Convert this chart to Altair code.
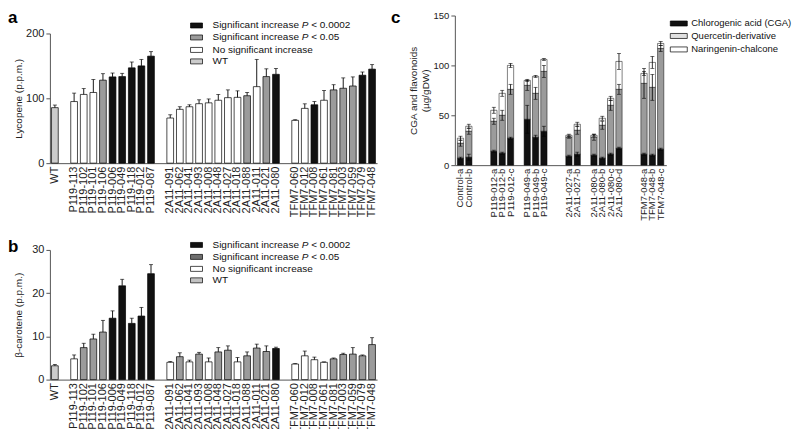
import altair as alt
import pandas as pd

FONT = "Liberation Sans"

# ---------------- panels a and b : transgenic lines ----------------
wt_lines = ["WT"]
p119_lines = ["P119-113", "P119-102", "P119-101", "P119-106", "P119-006",
              "P119-049", "P119-118", "P119-012", "P119-087"]
a2a11_lines = ["2A11-091", "2A11-062", "2A11-041", "2A11-093", "2A11-008", "2A11-048",
               "2A11-027", "2A11-018", "2A11-088", "2A11-011", "2A11-021", "2A11-080"]
tfm7_lines = ["TFM7-060", "TFM7-012", "TFM7-008", "TFM7-061", "TFM7-081",
              "TFM7-003", "TFM7-059", "TFM7-079", "TFM7-048"]

# lycopene (p.p.m.)
lyc_wt = [85.6]
lyc_p119 = [95, 106, 109, 128, 133, 133.5, 147, 150, 165]
lyc_2a11 = [69.6, 83, 87, 91.7, 93, 97, 101, 101.5, 104, 118, 133.5, 137]
lyc_tfm7 = [66, 84.5, 90, 97, 113, 115.5, 119, 135.6, 145]
lyc_wt_err = [4]
lyc_p119_err = [13, 9, 20, 10, 6, 5, 9, 10, 7]
lyc_2a11_err = [5, 4, 3, 6, 6, 9, 12, 10, 5, 42, 12, 9]
lyc_tfm7_err = [1, 7, 5, 15, 8, 16, 14, 5, 7]
lyc_sig_wt = ["wt"]
lyc_sig_p119 = ["ns", "ns", "ns", "p05", "p0002", "p0002", "p0002", "p0002", "p0002"]
lyc_sig_2a11 = ["ns", "ns", "ns", "ns", "ns", "ns", "ns", "ns", "p05", "ns", "p05", "p0002"]
lyc_sig_tfm7 = ["ns", "ns", "p0002", "ns", "p05", "p05", "p05", "p0002", "p0002"]

# beta-carotene (p.p.m.)
bc_wt = [3.2]
bc_p119 = [4.8, 7.4, 9.4, 11.0, 14.2, 21.7, 13.0, 14.7, 24.5]
bc_2a11 = [4.0, 5.3, 4.1, 5.9, 4.1, 6.4, 6.8, 4.1, 5.5, 7.3, 6.5, 7.2]
bc_tfm7 = [3.6, 5.5, 4.6, 4.0, 4.8, 5.8, 5.9, 5.5, 8.1]
bc_wt_err = [0.3]
bc_p119_err = [0.9, 1.0, 1.1, 2.7, 1.7, 1.5, 1.2, 2.0, 2.1]
bc_2a11_err = [0.2, 0.9, 0.4, 0.4, 0.9, 1.0, 1.0, 1.0, 0.9, 0.9, 1.3, 0.3]
bc_tfm7_err = [0.1, 1.1, 0.6, 0.1, 0.2, 0.3, 1.5, 0.2, 1.6]
bc_sig_wt = ["wt"]
bc_sig_p119 = ["ns", "p05", "p05", "p05", "p0002", "p0002", "p0002", "p0002", "p0002"]
bc_sig_2a11 = ["ns", "p05", "ns", "p05", "ns", "p05", "p05", "ns", "p05", "p05", "p05", "p0002"]
bc_sig_tfm7 = ["ns", "ns", "ns", "ns", "p05", "p05", "p05", "p05", "p05"]

sig_codes = ["p0002", "p05", "ns", "wt"]

# ---------------- panel c : fruit samples ----------------
c_samples = ["Control-a", "Control-b",
             "P119-012-a", "P119-012-b", "P119-012-c",
             "P119-049-a", "P119-049-b", "P119-049-c",
             "2A11-027-a", "2A11-027-b",
             "2A11-080-a", "2A11-080-b", "2A11-080-c", "2A11-080-d",
             "TFM7-048-a", "TFM7-048-b", "TFM7-048-c"]
c_groups = [2, 3, 3, 2, 4, 3]
c_gaps = [2, 1, 2, 1, 2]
cga = [7, 8, 14, 12, 27, 46, 28, 34, 9, 11, 10, 7, 11, 17, 11, 10, 16]
que = [15, 26, 30, 38, 49, 34, 44, 60, 19, 24, 18, 33, 49, 59, 71, 68, 101]
nar = [5, 5, 11, 22, 24, 5, 17, 12, 2, 6, 2, 7, 7, 28, 10, 25, 5]
cga_err = [1, 3, 1, 1, 1, 14, 2, 5, 1, 2, 1, 1, 1, 1, 1, 1, 1]
que_err = [3, 3, 3, 5, 5, 5, 6, 6, 1, 4, 3, 4, 5, 5, 15, 13, 3]
nar_err = [2, 2, 3, 3, 2, 1, 1, 1, 1, 2, 1, 2, 2, 8, 2, 6, 2]
components = ["Chlorogenic acid (CGA)", "Quercetin-derivative", "Naringenin-chalcone"]

# ---------------- helpers ----------------
ONE = alt.Data(values=[{"k": 0}])


def legend_layers(items, sw_x, sw_w, sw_h, text_x, row_ys, font_size):
    layers = []
    for (color, parts), yy in zip(items, row_ys):
        layers.append(
            alt.Chart(ONE).mark_rect(fill=color, stroke="black", strokeWidth=0.7).encode(
                x=alt.value(sw_x), x2=alt.value(sw_x + sw_w),
                y=alt.value(yy - sw_h / 2), y2=alt.value(yy + sw_h / 2)))
        for txt, dx, italic in parts:
            layers.append(
                alt.Chart(ONE).mark_text(
                    text=txt, align="left", baseline="middle", fontSize=font_size, font=FONT,
                    fontStyle="italic" if italic else "normal", color="#111").encode(
                    x=alt.value(text_x + dx), y=alt.value(yy)))
    return layers


def letter(ch, x, y):
    return alt.Chart(ONE).mark_text(
        text=ch, align="left", baseline="alphabetic", fontSize=17, fontWeight="bold",
        font=FONT, color="black").encode(x=alt.value(x), y=alt.value(y))


x_domain_ab = wt_lines + [" "] + p119_lines + ["  "] + a2a11_lines + ["   "] + tfm7_lines


def bar_panel(vals, errs, sigs, colors, ytitle, ymax, yticks, title_pad, extra, leg_y):
    lines = wt_lines + p119_lines + a2a11_lines + tfm7_lines
    df = pd.DataFrame({"line": lines, "val": vals, "err": errs, "sig": sigs})
    df["top"] = df["val"] + df["err"]
    x = alt.X("line:N", sort=x_domain_ab,
              scale=alt.Scale(domain=x_domain_ab, paddingInner=0.3, paddingOuter=0.17),
              axis=alt.Axis(title=None, labelAngle=-90, ticks=False, labelFontSize=11,
                            labelPadding=3, labelColor="#222", domainColor="#555"))
    y = alt.Y("val:Q", scale=alt.Scale(domain=[0, ymax], nice=False),
              axis=alt.Axis(title=ytitle, values=yticks, tickSize=4, labelFontSize=11,
                            labelPadding=2, titleFontSize=10, titleFontWeight="normal",
                            titlePadding=title_pad, domainColor="#555", tickColor="#555",
                            labelColor="#222", titleColor="#222"))
    bars = alt.Chart(df).mark_bar(stroke="black", strokeWidth=0.7).encode(
        x=x, y=y,
        fill=alt.Fill("sig:N", scale=alt.Scale(domain=sig_codes, range=colors), legend=None))
    err = alt.Chart(df).mark_rule(color="black", strokeWidth=0.9).encode(
        x=alt.X("line:N", sort=x_domain_ab), y="val:Q", y2="top:Q")
    cap = alt.Chart(df).mark_tick(color="black", size=4, thickness=0.9).encode(
        x=alt.X("line:N", sort=x_domain_ab), y="top:Q")
    items = [
        (colors[0], [("Significant increase", 0, False), ("P", 89.5, True), ("< 0.0002", 99, False)]),
        (colors[1], [("Significant increase", 0, False), ("P", 89.5, True), ("< 0.05", 99, False)]),
        (colors[2], [("No significant increase", 0, False)]),
        (colors[3], [("WT", 0, False)]),
    ]
    leg = legend_layers(items, 141, 12, 5, 163, leg_y, 10)
    return alt.layer(bars, err, cap, *extra, *leg).properties(width=328, height=130)


chart_a = bar_panel(lyc_wt + lyc_p119 + lyc_2a11 + lyc_tfm7,
                    lyc_wt_err + lyc_p119_err + lyc_2a11_err + lyc_tfm7_err,
                    lyc_sig_wt + lyc_sig_p119 + lyc_sig_2a11 + lyc_sig_tfm7,
                    ["#111111", "#9b9b9b", "#ffffff", "#cccccc"],
                    "Lycopene (p.p.m.)", 200, [0, 100, 200], 2, [],
                    [-8, 4, 16.5, 28])

chart_b = bar_panel(bc_wt + bc_p119 + bc_2a11 + bc_tfm7,
                    bc_wt_err + bc_p119_err + bc_2a11_err + bc_tfm7_err,
                    bc_sig_wt + bc_sig_p119 + bc_sig_2a11 + bc_sig_tfm7,
                    ["#111111", "#6e6e6e", "#ffffff", "#c2c2c2"],
                    "β-carotene (p.p.m.)", 30, [0, 10, 20, 30], 8, [letter("b", -42, 2)],
                    [-5, 7, 19, 30.5])

# thin header strip above panel a holding its letter
head_a = letter("a", -42, 7).properties(width=328, height=3)

# panel c data
x_domain_c = []
pos = 0
spacer = 0
for gi, n in enumerate(c_groups):
    x_domain_c += c_samples[pos:pos + n]
    pos += n
    if gi < len(c_gaps):
        for _ in range(c_gaps[gi]):
            spacer += 1
            x_domain_c.append(" " * spacer)

rows = []
err_rows = []
for i, s in enumerate(c_samples):
    vals = [cga[i], que[i], nar[i]]
    errs = [cga_err[i], que_err[i], nar_err[i]]
    cum = 0
    for k in range(3):
        rows.append({"sample": s, "comp": components[k], "ord": k, "v": vals[k]})
        cum += vals[k]
        err_rows.append({"sample": s, "lo": cum - errs[k], "hi": cum + errs[k]})
dfc = pd.DataFrame(rows)
dfe = pd.DataFrame(err_rows)
c_colors = ["#111111", "#e0e0e0", "#ffffff"]

xc = alt.X("sample:N", sort=x_domain_c,
           scale=alt.Scale(domain=x_domain_c, paddingInner=0.25, paddingOuter=0.3),
           axis=alt.Axis(title=None, labelAngle=-90, ticks=False, labelFontSize=9.5,
                         labelPadding=3, labelColor="#222", domainColor="#555"))
yc = alt.Y("v:Q", stack="zero", scale=alt.Scale(domain=[0, 150], nice=False),
           axis=alt.Axis(title=["CGA and flavonoids", "(µg/gDW)"], values=[0, 50, 100, 150],
                         tickSize=4, labelFontSize=9.5, labelPadding=2, titleFontSize=10,
                         titleFontWeight="normal", titlePadding=3, domainColor="#555",
                         tickColor="#555", labelColor="#222", titleColor="#222"))
bars_c = alt.Chart(dfc).mark_bar(stroke="black", strokeWidth=0.5).encode(
    x=xc, y=yc, order=alt.Order("ord:Q"),
    fill=alt.Fill("comp:N", scale=alt.Scale(domain=components, range=c_colors), legend=None))
xs = alt.X("sample:N", sort=x_domain_c)
err_c = alt.Chart(dfe).mark_rule(color="black", strokeWidth=0.8).encode(x=xs, y="lo:Q", y2="hi:Q")
cap_lo = alt.Chart(dfe).mark_tick(color="black", size=4, thickness=0.8).encode(x=xs, y="lo:Q")
cap_hi = alt.Chart(dfe).mark_tick(color="black", size=4, thickness=0.8).encode(x=xs, y="hi:Q")
items_c = [(c_colors[k], [(components[k], 0, False)]) for k in range(3)]
leg_c = legend_layers(items_c, 216, 17, 5, 237, [8, 20.5, 34], 9.5)
chart_c = alt.layer(bars_c, err_c, cap_lo, cap_hi, letter("c", -64, 7), *leg_c).properties(
    width=212, height=150)

top_a = alt.vconcat(head_a, chart_a, spacing=-5)
left = alt.vconcat(top_a, chart_b, spacing=21)
chart = alt.hconcat(left, chart_c, spacing=14).properties(padding=0).configure_view(
    stroke=None).configure_axis(labelFont=FONT, titleFont=FONT, grid=False)

chart.save("out.html", embed_options={"renderer": "svg", "actions": False})
